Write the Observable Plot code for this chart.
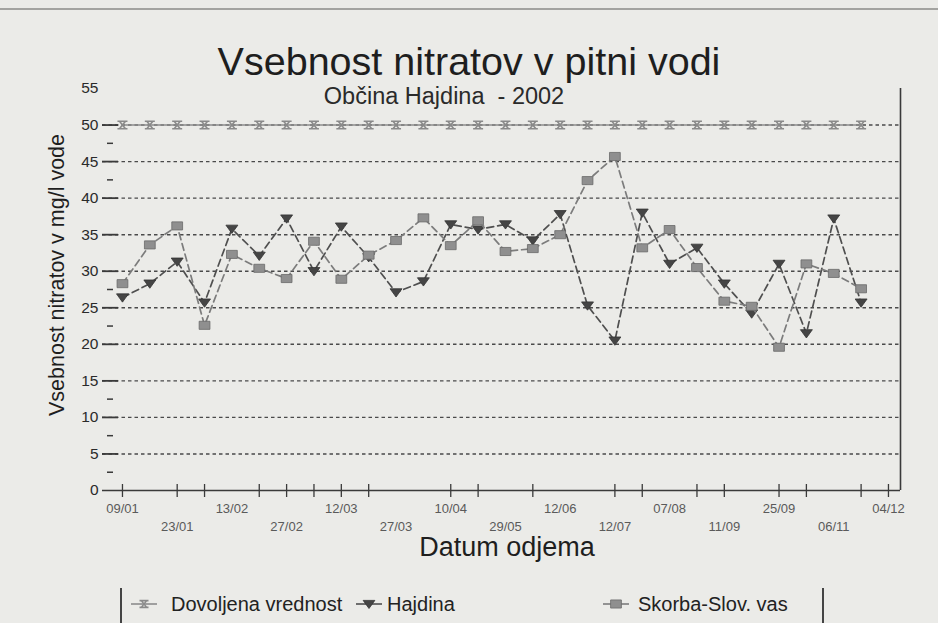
<!DOCTYPE html>
<html><head><meta charset="utf-8">
<script src="https://cdn.jsdelivr.net/npm/d3@7"></script>
<script src="https://cdn.jsdelivr.net/npm/@observablehq/plot@0.6"></script>
<style>
html,body{margin:0;padding:0;background:#ebebe8;}
#wrap{position:relative;width:938px;height:623px;overflow:hidden;font-family:"Liberation Sans",Arial,sans-serif;color:#222;}
#wrap svg.chart{position:absolute;left:0;top:0;}
.t{position:absolute;white-space:pre;line-height:1;}
.topline{position:absolute;left:0;top:8px;width:938px;height:2px;background:#a3a3a0;}
.lgbox{position:absolute;left:120px;top:588px;width:700px;height:60px;border-left:2px solid #444;border-right:2px solid #444;}
</style></head><body><div id="wrap"></div>
<script>
// ---- data ----
const titleText = "Vsebnost nitratov v pitni vodi";
const subtitleText = "Občina Hajdina  - 2002";
const yTitle = "Vsebnost nitratov v mg/l vode";
const xTitle = "Datum odjema";
const seriesNames = ["Dovoljena vrednost", "Hajdina", "Skorba-Slov. vas"];
// sampling dates shown on the axis (every 2nd sampling is labelled)
const categoryLabels = ["09/01","23/01","13/02","27/02","12/03","27/03","10/04","29/05","12/06","12/07","07/08","11/09","25/09","06/11","04/12"];
const labelStep = 2;
const limitValues = [50,50,50,50,50,50,50,50,50,50,50,50,50,50,50,50,50,50,50,50,50,50,50,50,50,50,50,50];
const hajdina = [26.4,28.3,31.3,25.7,35.8,32.1,37.2,30.0,36.1,31.9,27.1,28.6,36.4,35.7,36.4,34.2,37.8,25.3,20.5,38.0,31.0,33.2,28.3,24.2,31.0,21.5,37.2,25.7];
const skorba  = [28.3,33.6,36.2,22.6,32.3,30.4,29.0,34.1,28.9,32.2,34.2,37.3,33.5,36.9,32.7,33.1,35.0,42.4,45.7,33.2,35.7,30.5,25.9,25.2,19.6,31.0,29.7,27.6];
const yLabelTicks = [0,5,10,15,20,25,30,35,40,45,50,55];
const yMajorTicks = [5,10,15,20,25,30,35,40,45,50];
const yMinorTicks = [2.5,7.5,12.5,22.5,27.5,42.5,47.5];
const gridValues = [5,10,15,20,25,30,35,40,45,50];
const xTickMarks = [0,2,3,5,6,7,8,9,12,13,15,18,19,21,22,24,25,27,28];

// ---- helpers ----
const xDomain = [-0.73, 28.44];
const rowsOf = (vals, name) => vals.map((v, i) => ({i, v, series: name}));
const limitRows = rowsOf(limitValues, seriesNames[0]);
const hajRows = rowsOf(hajdina, seriesNames[1]);
const skoRows = rowsOf(skorba, seriesNames[2]);
const labelIdx = categoryLabels.map((d, k) => k * labelStep);
const row1 = labelIdx.filter((d, k) => k % 2 === 0);
const row2 = labelIdx.filter((d, k) => k % 2 === 1);
const labelOf = i => categoryLabels[i / labelStep];

const hourglass = {draw(ctx, size){ const s = Math.sqrt(size/Math.PI);
  ctx.moveTo(-s,-0.75*s); ctx.lineTo(s,-0.75*s);
  ctx.moveTo(-s,0.75*s); ctx.lineTo(s,0.75*s);
  ctx.moveTo(-0.6*s,-0.75*s); ctx.lineTo(0.6*s,0.75*s);
  ctx.moveTo(0.6*s,-0.75*s); ctx.lineTo(-0.6*s,0.75*s);}};
const triDown = {draw(ctx, size){ const s = Math.sqrt(size/Math.PI);
  ctx.moveTo(-1.3*s,-0.8*s); ctx.lineTo(1.3*s,-0.8*s); ctx.lineTo(0,1.0*s); ctx.closePath();}};
const rectSym = {draw(ctx, size){ const s = Math.sqrt(size/Math.PI);
  ctx.rect(-1.2*s,-0.9*s,2.4*s,1.8*s);}};

const FONT = '"Liberation Sans", Arial, sans-serif';
const dash = "7,4";

const chart = Plot.plot({
  width: 938, height: 623,
  marginLeft: 102, marginRight: 38, marginTop: 88, marginBottom: 133,
  x: {type: "linear", domain: xDomain, label: null},
  y: {domain: [0, 55], label: null},
  style: {background: "transparent", fontFamily: FONT, overflow: "visible"},
  marks: [
    Plot.ruleY(gridValues, {stroke: "#4a4a4a", strokeWidth: 1.4, strokeDasharray: "3.5,3"}),
    Plot.ruleY([0], {stroke: "#3a3a3a", strokeWidth: 1.6}),
    Plot.ruleX([xDomain[1]], {stroke: "#3a3a3a", strokeWidth: 1.6}),
    Plot.axisY(yLabelTicks, {tickSize: 0, tickPadding: 4, fontSize: 15.5, fill: "#2a2a2a", label: null}),
    Plot.axisY(yMajorTicks, {tickSize: 16, dx: 16, tickFormat: () => "", label: null, stroke: "#3a3a3a", strokeWidth: 1.8}),
    Plot.axisY(yMinorTicks, {tickSize: 6, dx: 11, tickFormat: () => "", label: null, stroke: "#3a3a3a", strokeWidth: 1.5}),
    Plot.axisX(xTickMarks, {tickSize: 13, dy: -6, tickFormat: () => "", label: null, stroke: "#3a3a3a", strokeWidth: 1.3}),
    Plot.axisX(row1, {tickSize: 0, tickPadding: 13, tickFormat: labelOf, fontSize: 13, fill: "#5a5a5a", label: null}),
    Plot.axisX(row2, {tickSize: 0, tickPadding: 31, tickFormat: labelOf, fontSize: 13, fill: "#5a5a5a", label: null}),
    Plot.line(limitRows, {x: "i", y: "v", stroke: "#8c8c8c", strokeWidth: 1.6}),
    Plot.dot(limitRows, {x: "i", y: "v", symbol: hourglass, r: 5, stroke: "#8a8a8a", strokeWidth: 1.6, fill: "none"}),
    Plot.line(hajRows, {x: "i", y: "v", stroke: "#4f4f4f", strokeWidth: 1.7, strokeDasharray: dash}),
    Plot.dot(hajRows, {x: "i", y: "v", symbol: triDown, r: 4.6, fill: "#454545", stroke: "#333", strokeWidth: 0.8}),
    Plot.line(skoRows, {x: "i", y: "v", stroke: "#7c7c7c", strokeWidth: 1.7, strokeDasharray: dash}),
    Plot.dot(skoRows, {x: "i", y: "v", symbol: rectSym, r: 4.5, fill: "#8f8f8f", stroke: "#6a6a6a", strokeWidth: 0.8})
  ]
});
chart.classList.add("chart");
const wrap = document.getElementById("wrap");
wrap.appendChild(chart);

const topLine = document.createElement("div"); topLine.className = "topline"; wrap.appendChild(topLine);

function place(text, cx, baseline, fs, extra = "") {
  const d = document.createElement("div");
  d.className = "t";
  d.textContent = text;
  d.style.cssText = `left:${cx}px;top:${baseline - 0.8465*fs}px;font-size:${fs}px;transform:translateX(-50%);${extra}`;
  wrap.appendChild(d);
  return d;
}
place(titleText, 469, 75, 39.5, "color:#1e1e1e;");
place(subtitleText, 444, 105, 23.5, "color:#2a2a2a;");
place(xTitle, 507, 557, 27, "color:#1e1e1e;");
const yt = document.createElement("div");
yt.className = "t"; yt.textContent = yTitle;
yt.style.cssText = "left:58px;top:275px;font-size:21.5px;color:#1e1e1e;transform:translate(-50%,-50%) rotate(-90deg);";
wrap.appendChild(yt);

// legend
const lg = document.createElement("div"); lg.className = "lgbox"; wrap.appendChild(lg);
const legendItems = [
  {name: seriesNames[0], sym: hourglass, fill: "none", stroke: "#8a8a8a", line: "#8c8c8c", sx: 131, tx: 171},
  {name: seriesNames[1], sym: triDown, fill: "#454545", stroke: "#333", line: "#4f4f4f", sx: 356, tx: 387},
  {name: seriesNames[2], sym: rectSym, fill: "#8f8f8f", stroke: "#6a6a6a", line: "#7c7c7c", sx: 603, tx: 638}
];
legendItems.forEach(it => {
  const p = d3.path(); it.sym.draw(p, Math.PI * 4.5 * 4.5);
  const svg = d3.select(wrap).append("svg")
    .attr("width", 26).attr("height", 14)
    .style("position", "absolute").style("left", it.sx + "px").style("top", "597px");
  svg.append("line").attr("x1", 0).attr("x2", 26).attr("y1", 7).attr("y2", 7).attr("stroke", it.line).attr("stroke-width", 1.6);
  svg.append("path").attr("d", p.toString()).attr("transform", "translate(13,7)")
    .attr("fill", it.fill).attr("stroke", it.stroke).attr("stroke-width", it.fill === "none" ? 1.6 : 0.8);
  const d = document.createElement("div");
  d.className = "t"; d.textContent = it.name;
  d.style.cssText = `left:${it.tx}px;top:${611 - 0.8465*20}px;font-size:20px;color:#222;`;
  wrap.appendChild(d);
});
</script></body></html>
